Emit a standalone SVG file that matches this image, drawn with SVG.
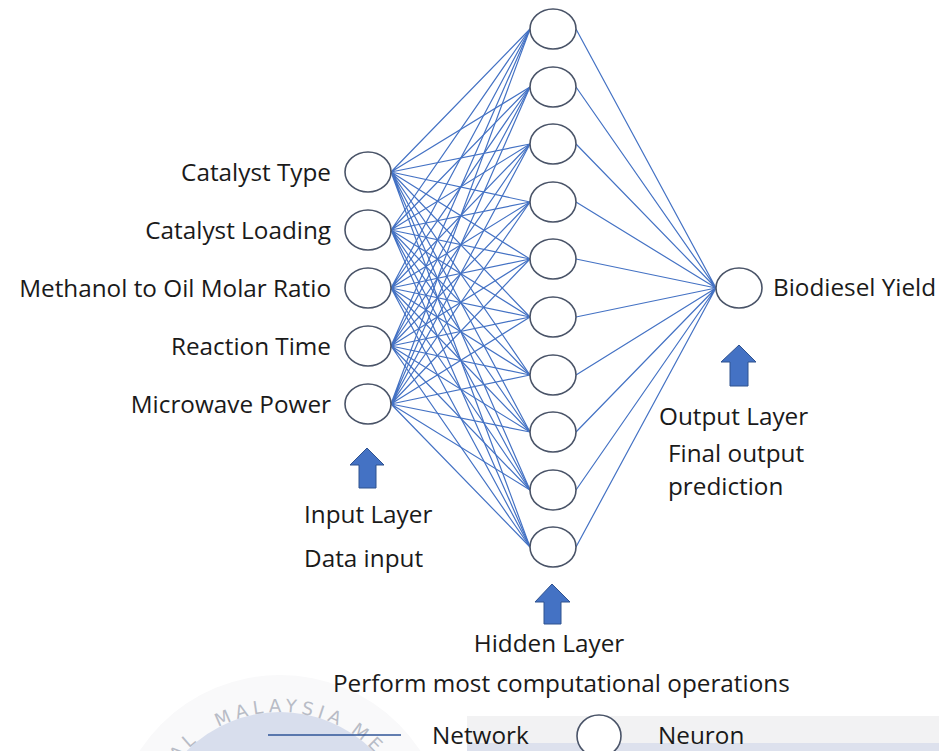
<svg xmlns="http://www.w3.org/2000/svg" width="939" height="751" viewBox="0 0 939 751">
  <style>
    .lbl { font-family: "Open Sans", "Noto Sans", "DejaVu Sans", sans-serif; font-size: 24.3px; fill: #1a1a1a; }
    .end { text-anchor: end; }
    .mid { text-anchor: middle; }
    .neuron { fill: #ffffff; stroke: #4a5468; stroke-width: 1.6; }
    .link { fill: none; stroke: #4472c4; stroke-width: 1.2; }
    .arrow { fill: #4472c4; stroke: #2f528f; stroke-width: 1; }
    .wm { font-family: "DejaVu Sans", sans-serif; font-size: 18px; fill: #b8bcc6; letter-spacing: 5px; }
  </style>
  <defs>
    <path id="wmArc" d="M149 843 A131 131 0 0 1 411 843"/>
  </defs>

  <!-- faint seal in the lower left and the grey band behind the legend -->
  <g id="backdrop">
    <circle cx="280" cy="843" r="168" fill="#f9f9fa"/>
    <circle cx="280" cy="843" r="131" fill="#d8deed"/>
    <text class="wm"><textPath href="#wmArc" startOffset="104" text-anchor="middle">AL</textPath></text>
    <text class="wm"><textPath href="#wmArc" startOffset="206" text-anchor="middle">MALAYSIA</textPath></text>
    <text class="wm"><textPath href="#wmArc" startOffset="298" text-anchor="middle">ME</textPath></text>
    <rect x="467" y="716" width="472" height="27" fill="#f2f2f3"/>
    <rect x="467" y="743" width="472" height="8" fill="#dde1ed"/>
  </g>

  <!-- weighted connections -->
  <g id="connectors" class="link">
    <path d="M391 172L530 29M391 172L530 87M391 172L530 144M391 172L530 202M391 172L530 259M391 172L530 317M391 172L530 375M391 172L530 432M391 172L530 490M391 172L530 547"/>
    <path d="M391 230L530 29M391 230L530 87M391 230L530 144M391 230L530 202M391 230L530 259M391 230L530 317M391 230L530 375M391 230L530 432M391 230L530 490M391 230L530 547"/>
    <path d="M391 288L530 29M391 288L530 87M391 288L530 144M391 288L530 202M391 288L530 259M391 288L530 317M391 288L530 375M391 288L530 432M391 288L530 490M391 288L530 547"/>
    <path d="M391 346L530 29M391 346L530 87M391 346L530 144M391 346L530 202M391 346L530 259M391 346L530 317M391 346L530 375M391 346L530 432M391 346L530 490M391 346L530 547"/>
    <path d="M391 404L530 29M391 404L530 87M391 404L530 144M391 404L530 202M391 404L530 259M391 404L530 317M391 404L530 375M391 404L530 432M391 404L530 490M391 404L530 547"/>
    <path d="M576 29L716 288M576 87L716 288M576 144L716 288M576 202L716 288M576 259L716 288M576 317L716 288M576 375L716 288M576 432L716 288M576 490L716 288M576 547L716 288"/>
  </g>

  <!-- input layer -->
  <g id="in-catalyst-type"><ellipse class="neuron" cx="368" cy="172" rx="23" ry="20"/><text class="lbl end" x="331" y="181">Catalyst Type</text></g>
  <g id="in-catalyst-loading"><ellipse class="neuron" cx="368" cy="230" rx="23" ry="20"/><text class="lbl end" x="331" y="239">Catalyst Loading</text></g>
  <g id="in-molar-ratio"><ellipse class="neuron" cx="368" cy="288" rx="23" ry="20"/><text class="lbl end" x="331" y="297">Methanol to Oil Molar Ratio</text></g>
  <g id="in-reaction-time"><ellipse class="neuron" cx="368" cy="346" rx="23" ry="20"/><text class="lbl end" x="331" y="355">Reaction Time</text></g>
  <g id="in-microwave-power"><ellipse class="neuron" cx="368" cy="404" rx="23" ry="20"/><text class="lbl end" x="331" y="413">Microwave Power</text></g>

  <!-- hidden layer -->
  <g id="hidden-1"><ellipse class="neuron" cx="553" cy="29" rx="23" ry="20"/></g>
  <g id="hidden-2"><ellipse class="neuron" cx="553" cy="87" rx="23" ry="20"/></g>
  <g id="hidden-3"><ellipse class="neuron" cx="553" cy="144" rx="23" ry="20"/></g>
  <g id="hidden-4"><ellipse class="neuron" cx="553" cy="202" rx="23" ry="20"/></g>
  <g id="hidden-5"><ellipse class="neuron" cx="553" cy="259" rx="23" ry="20"/></g>
  <g id="hidden-6"><ellipse class="neuron" cx="553" cy="317" rx="23" ry="20"/></g>
  <g id="hidden-7"><ellipse class="neuron" cx="553" cy="375" rx="23" ry="20"/></g>
  <g id="hidden-8"><ellipse class="neuron" cx="553" cy="432" rx="23" ry="20"/></g>
  <g id="hidden-9"><ellipse class="neuron" cx="553" cy="490" rx="23" ry="20"/></g>
  <g id="hidden-10"><ellipse class="neuron" cx="553" cy="547" rx="23" ry="20"/></g>

  <!-- output layer -->
  <g id="out-biodiesel-yield"><ellipse class="neuron" cx="739" cy="288" rx="23" ry="20"/><text class="lbl" x="773" y="296">Biodiesel Yield</text></g>

  <!-- layer captions with pointer arrows -->
  <g id="input-caption">
    <path class="arrow" d="M367 448L384 465L376 465L376 488L359 488L359 465L350 465Z"/>
    <text class="lbl" x="304" y="523">Input Layer</text>
    <text class="lbl" x="304" y="567">Data input</text>
  </g>
  <g id="hidden-caption">
    <path class="arrow" d="M552 584L570 602L561 602L561 624L544 624L544 602L535 602Z"/>
    <text class="lbl mid" x="549" y="652">Hidden Layer</text>
    <text class="lbl" x="333" y="692">Perform most computational operations</text>
  </g>
  <g id="output-caption">
    <path class="arrow" d="M739 345L756 362L748 362L748 386L730 386L730 362L721 362Z"/>
    <text class="lbl" x="659" y="425">Output Layer</text>
    <text class="lbl" x="668" y="462">Final output</text>
    <text class="lbl" x="668" y="495">prediction</text>
  </g>

  <!-- legend -->
  <g id="legend">
    <line x1="268" y1="735" x2="401" y2="735" stroke="#2f5597" stroke-width="1.5"/>
    <text class="lbl" x="432" y="744">Network</text>
    <ellipse class="neuron" cx="599" cy="736" rx="22" ry="21"/>
    <text class="lbl" x="658" y="744">Neuron</text>
  </g>
</svg>
